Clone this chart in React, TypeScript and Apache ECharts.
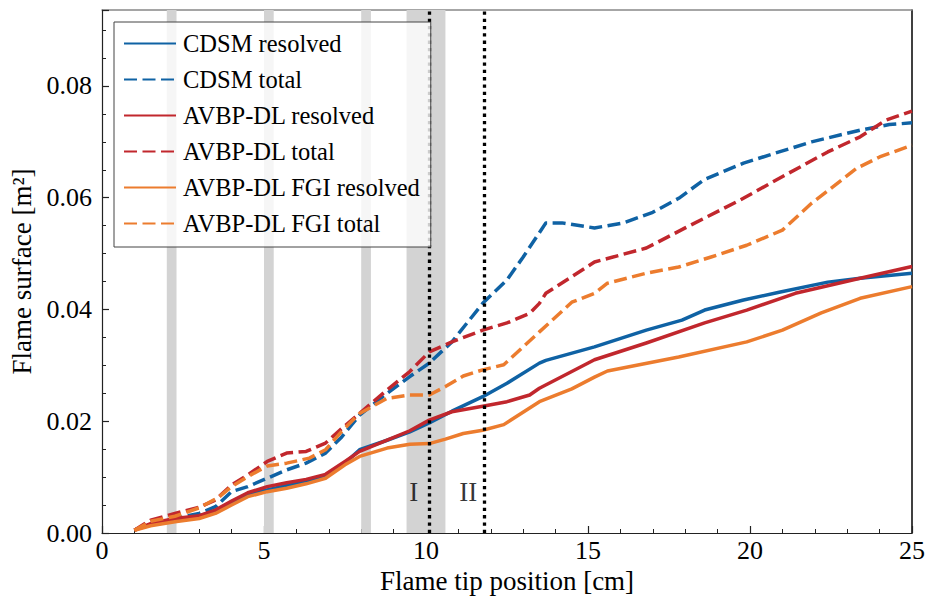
import React, { useEffect, useRef } from "react";
import * as echarts from "echarts";

// ---------- data ----------
const seriesNames = [
  "CDSM resolved",
  "CDSM total",
  "AVBP-DL resolved",
  "AVBP-DL total",
  "AVBP-DL FGI resolved",
  "AVBP-DL FGI total",
];

const cdsmResolvedX = [1, 1.5, 2.25, 3, 3.5, 4, 4.5, 5.1, 5.7, 6.3, 6.9, 7.5, 7.95, 8.8, 9.5, 10.1, 10.8, 11.75, 12.5, 13.5, 13.7, 15.2, 16.8, 17.9, 18.6, 19.8, 20.9, 22.4, 23.4, 25];
const cdsmResolvedY = [0.0005, 0.0015, 0.0024, 0.003, 0.004, 0.0055, 0.0069, 0.0077, 0.0085, 0.0092, 0.0102, 0.0125, 0.0149, 0.0166, 0.0181, 0.0197, 0.0218, 0.0244, 0.0268, 0.0304, 0.0309, 0.0333, 0.0363, 0.0381, 0.0399, 0.0417, 0.0431, 0.0449, 0.0456, 0.0465];

const cdsmTotalX = [1, 1.5, 2.25, 3, 3.5, 4, 4.5, 5.1, 5.7, 6.3, 6.9, 7.4, 7.95, 8.8, 9.5, 10.1, 10.8, 11.75, 12.5, 13.0, 13.7, 14.2, 15.2, 16.1, 17.0, 17.8, 18.6, 19.8, 20.9, 21.9, 23.4, 24.3, 25];
const cdsmTotalY = [0.0005, 0.0017, 0.0026, 0.0035, 0.0047, 0.0074, 0.0083, 0.0098, 0.0113, 0.0125, 0.0143, 0.0172, 0.0211, 0.025, 0.028, 0.0304, 0.0342, 0.0411, 0.0453, 0.0494, 0.0555, 0.0555, 0.0546, 0.0555, 0.0574, 0.0599, 0.0633, 0.0662, 0.0682, 0.07, 0.0721, 0.0731, 0.0734];

const dlResolvedX = [1, 1.5, 2.25, 3, 3.5, 4, 4.5, 5.1, 5.7, 6.3, 6.9, 7.5, 7.95, 8.8, 9.5, 10.1, 10.8, 11.75, 12.5, 13.2, 13.5, 14.5, 15.2, 16.8, 18.6, 19.9, 21.4, 23.4, 25];
const dlResolvedY = [0.0005, 0.0017, 0.0026, 0.0031, 0.0041, 0.0057, 0.0072, 0.0083, 0.009, 0.0096, 0.0105, 0.0128, 0.0146, 0.0166, 0.0183, 0.0202, 0.0217, 0.0227, 0.0235, 0.0247, 0.0259, 0.0289, 0.031, 0.034, 0.0376, 0.0399, 0.0429, 0.0456, 0.0477];

const dlTotalX = [1, 1.5, 2.25, 3, 3.5, 4, 4.5, 5.1, 5.7, 6.3, 6.9, 7.4, 7.95, 8.8, 9.5, 10.1, 10.8, 11.75, 12.5, 13.2, 13.5, 13.7, 15.2, 16.8, 18.0, 19.7, 21.1, 22.4, 23.4, 24.2, 25];
const dlTotalY = [0.0005, 0.0023, 0.0035, 0.0046, 0.0059, 0.0086, 0.0104, 0.0128, 0.0143, 0.0146, 0.0161, 0.0187, 0.0214, 0.0256, 0.0289, 0.0324, 0.0342, 0.0363, 0.0376, 0.0393, 0.0411, 0.0429, 0.0485, 0.051, 0.0546, 0.0596, 0.0641, 0.0682, 0.0709, 0.0739, 0.0755];

const fgiResolvedX = [1, 1.5, 2.25, 3, 3.5, 4, 4.5, 5.1, 5.7, 6.3, 6.9, 7.5, 7.95, 8.8, 9.5, 10.1, 10.6, 11.15, 11.75, 12.4, 13.5, 14.5, 15.2, 15.6, 17.8, 19.9, 21.0, 22.2, 23.4, 25];
const fgiResolvedY = [0.0005, 0.0013, 0.002, 0.0026, 0.0035, 0.005, 0.0065, 0.0074, 0.008, 0.0088, 0.0098, 0.0122, 0.0137, 0.0152, 0.0159, 0.016, 0.0168, 0.0178, 0.0184, 0.0194, 0.0235, 0.0258, 0.0279, 0.029, 0.0315, 0.0342, 0.0363, 0.0394, 0.042, 0.0441];

const fgiTotalX = [1, 1.5, 2.25, 3, 3.6, 4, 4.5, 5.1, 5.7, 6.4, 6.9, 7.4, 7.95, 8.8, 9.5, 10.1, 10.6, 11.15, 11.75, 12.4, 13.5, 14.5, 15.2, 15.6, 16.8, 17.8, 18.8, 19.9, 21.0, 21.9, 23.3, 24.0, 25];
const fgiTotalY = [0.0005, 0.0021, 0.003, 0.0045, 0.0064, 0.0083, 0.0101, 0.012, 0.0125, 0.0134, 0.0149, 0.0182, 0.0214, 0.0241, 0.0247, 0.0247, 0.0262, 0.0281, 0.0292, 0.0301, 0.036, 0.0413, 0.0429, 0.0447, 0.0465, 0.0476, 0.0494, 0.0515, 0.0542, 0.059, 0.0653, 0.0673, 0.0694];

// shaded x-intervals
const bandStarts = [2.0, 5.0, 8.0, 9.4];
const bandEnds = [2.3, 5.3, 8.3, 10.6];

// vertical dotted markers and their labels
const markerX = [10.1, 11.8];
const regionLabels = ["I", "II"];
const regionLabelX = [9.62, 11.3];
const regionLabelY = [0.0074, 0.0074];

const xMin = 0;
const xMax = 25;
const xInterval = 5;
const yMin = 0;
const yMax = 0.0936;
const yInterval = 0.02;

const BLUE = "#0f62a4";
const RED = "#c1272d";
const ORANGE = "#ec7c2e";
const FONT = "'Liberation Serif', 'Times New Roman', 'DejaVu Serif', serif";

const zip = (xs: number[], ys: number[]) => xs.map((x, i) => [x, ys[i]]);

const seriesDefs = [
  { name: seriesNames[0], x: cdsmResolvedX, y: cdsmResolvedY, color: BLUE, dashed: false },
  { name: seriesNames[1], x: cdsmTotalX, y: cdsmTotalY, color: BLUE, dashed: true },
  { name: seriesNames[2], x: dlResolvedX, y: dlResolvedY, color: RED, dashed: false },
  { name: seriesNames[3], x: dlTotalX, y: dlTotalY, color: RED, dashed: true },
  { name: seriesNames[4], x: fgiResolvedX, y: fgiResolvedY, color: ORANGE, dashed: false },
  { name: seriesNames[5], x: fgiTotalX, y: fgiTotalY, color: ORANGE, dashed: true },
];

export default function App() {
  const ref = useRef<HTMLDivElement>(null);

  useEffect(() => {
    if (!ref.current) return;
    const chart = echarts.init(ref.current, undefined, { renderer: "svg" });

    const lineSeries = seriesDefs.map((s) => ({
      name: s.name,
      type: "line",
      data: zip(s.x, s.y),
      showSymbol: false,
      symbol: "none",
      z: 3,
      color: s.color,
      lineStyle: {
        color: s.color,
        width: 3.5,
        type: s.dashed ? [13, 5.5] : "solid",
        cap: "butt",
        join: "round",
      },
      itemStyle: { color: s.color },
      emphasis: { disabled: true },
    }));

    const option: any = {
      animation: false,
      textStyle: { fontFamily: FONT, color: "#000" },
      grid: { left: 102, top: 10, right: 15, bottom: 70, containLabel: false },
      xAxis: [
        {
          type: "value",
          min: xMin,
          max: xMax,
          interval: xInterval,
          name: "Flame tip position [cm]",
          nameLocation: "middle",
          nameGap: 32,
          nameTextStyle: { fontFamily: FONT, fontSize: 27, color: "#000" },
          axisLine: { show: true, onZero: false, lineStyle: { color: "#222", width: 1.2 } },
          axisTick: { show: true, inside: true, length: 7, lineStyle: { color: "#222", width: 1.2 } },
          minorTick: { show: true, splitNumber: 5, length: 4, lineStyle: { color: "#222", width: 1 } },
          axisLabel: { fontFamily: FONT, fontSize: 26, color: "#000", margin: 4 },
          splitLine: { show: false },
        },
        {
          type: "value",
          position: "top",
          min: xMin,
          max: xMax,
          axisLine: { show: true, onZero: false, lineStyle: { color: "#888", width: 1.5 } },
          axisTick: { show: false },
          axisLabel: { show: false },
          splitLine: { show: false },
        },
      ],
      yAxis: [
        {
          type: "value",
          min: yMin,
          max: yMax,
          interval: yInterval,
          name: "Flame surface [m²]",
          nameLocation: "middle",
          nameGap: 64,
          nameTextStyle: { fontFamily: FONT, fontSize: 27, color: "#000" },
          axisLine: { show: true, onZero: false, lineStyle: { color: "#222", width: 1.2 } },
          axisTick: { show: true, inside: true, length: 7, lineStyle: { color: "#222", width: 1.2 } },
          minorTick: { show: true, splitNumber: 4, length: 4, lineStyle: { color: "#222", width: 1 } },
          axisLabel: {
            fontFamily: FONT,
            fontSize: 26,
            color: "#000",
            margin: 10,
            showMaxLabel: false,
            formatter: (v: number) => {
              const k = Math.round(v / yInterval);
              return Math.abs(k * yInterval - v) < 1e-9 ? v.toFixed(2) : "";
            },
          },
          splitLine: { show: false },
        },
        {
          type: "value",
          position: "right",
          min: yMin,
          max: yMax,
          axisLine: { show: true, onZero: false, lineStyle: { color: "#000", width: 1.5 } },
          axisTick: { show: false },
          axisLabel: { show: false },
          splitLine: { show: false },
        },
      ],
      legend: {
        data: seriesNames,
        orient: "vertical",
        left: 114,
        top: 22,
        padding: [9, 10, 11, 9],
        itemWidth: 52,
        itemHeight: 14,
        itemGap: 11,
        selectedMode: false,
        backgroundColor: "rgba(255,255,255,0.8)",
        borderColor: "#444",
        borderWidth: 1,
        borderRadius: 0,
        z: 20,
        itemStyle: { opacity: 0, borderWidth: 0 },
        textStyle: { fontFamily: FONT, fontSize: 24.5, color: "#000", lineHeight: 24, padding: [0, 0, 0, 2] },
      },
      series: [
        {
          name: "bands",
          type: "line",
          data: [],
          z: 1,
          silent: true,
          markArea: {
            silent: true,
            itemStyle: { color: "#d3d3d3" },
            data: bandStarts.map((s, i) => [{ xAxis: s }, { xAxis: bandEnds[i] }]),
          },
        },
        ...lineSeries,
        {
          name: "markers",
          type: "line",
          data: [],
          z: 5,
          silent: true,
          markLine: {
            silent: true,
            symbol: ["none", "none"],
            label: { show: false },
            lineStyle: { color: "#000", width: 3.3, type: [3.3, 4], cap: "butt" },
            data: markerX.map((x) => ({ xAxis: x })),
          },
        },
        {
          name: "regionLabels",
          type: "scatter",
          symbolSize: 0,
          z: 6,
          silent: true,
          data: regionLabelX.map((x, i) => ({ value: [x, regionLabelY[i]], name: regionLabels[i] })),
          label: {
            show: true,
            position: "inside",
            formatter: (p: any) => p.name,
            fontFamily: FONT,
            fontSize: 27,
            color: "#000",
          },
        },
      ],
    };

    chart.setOption(option);
    return () => chart.dispose();
  }, []);

  return (
    <div
      ref={ref}
      style={{ position: "fixed", left: 0, top: 0, width: 928, height: 603, background: "#fff" }}
    />
  );
}
